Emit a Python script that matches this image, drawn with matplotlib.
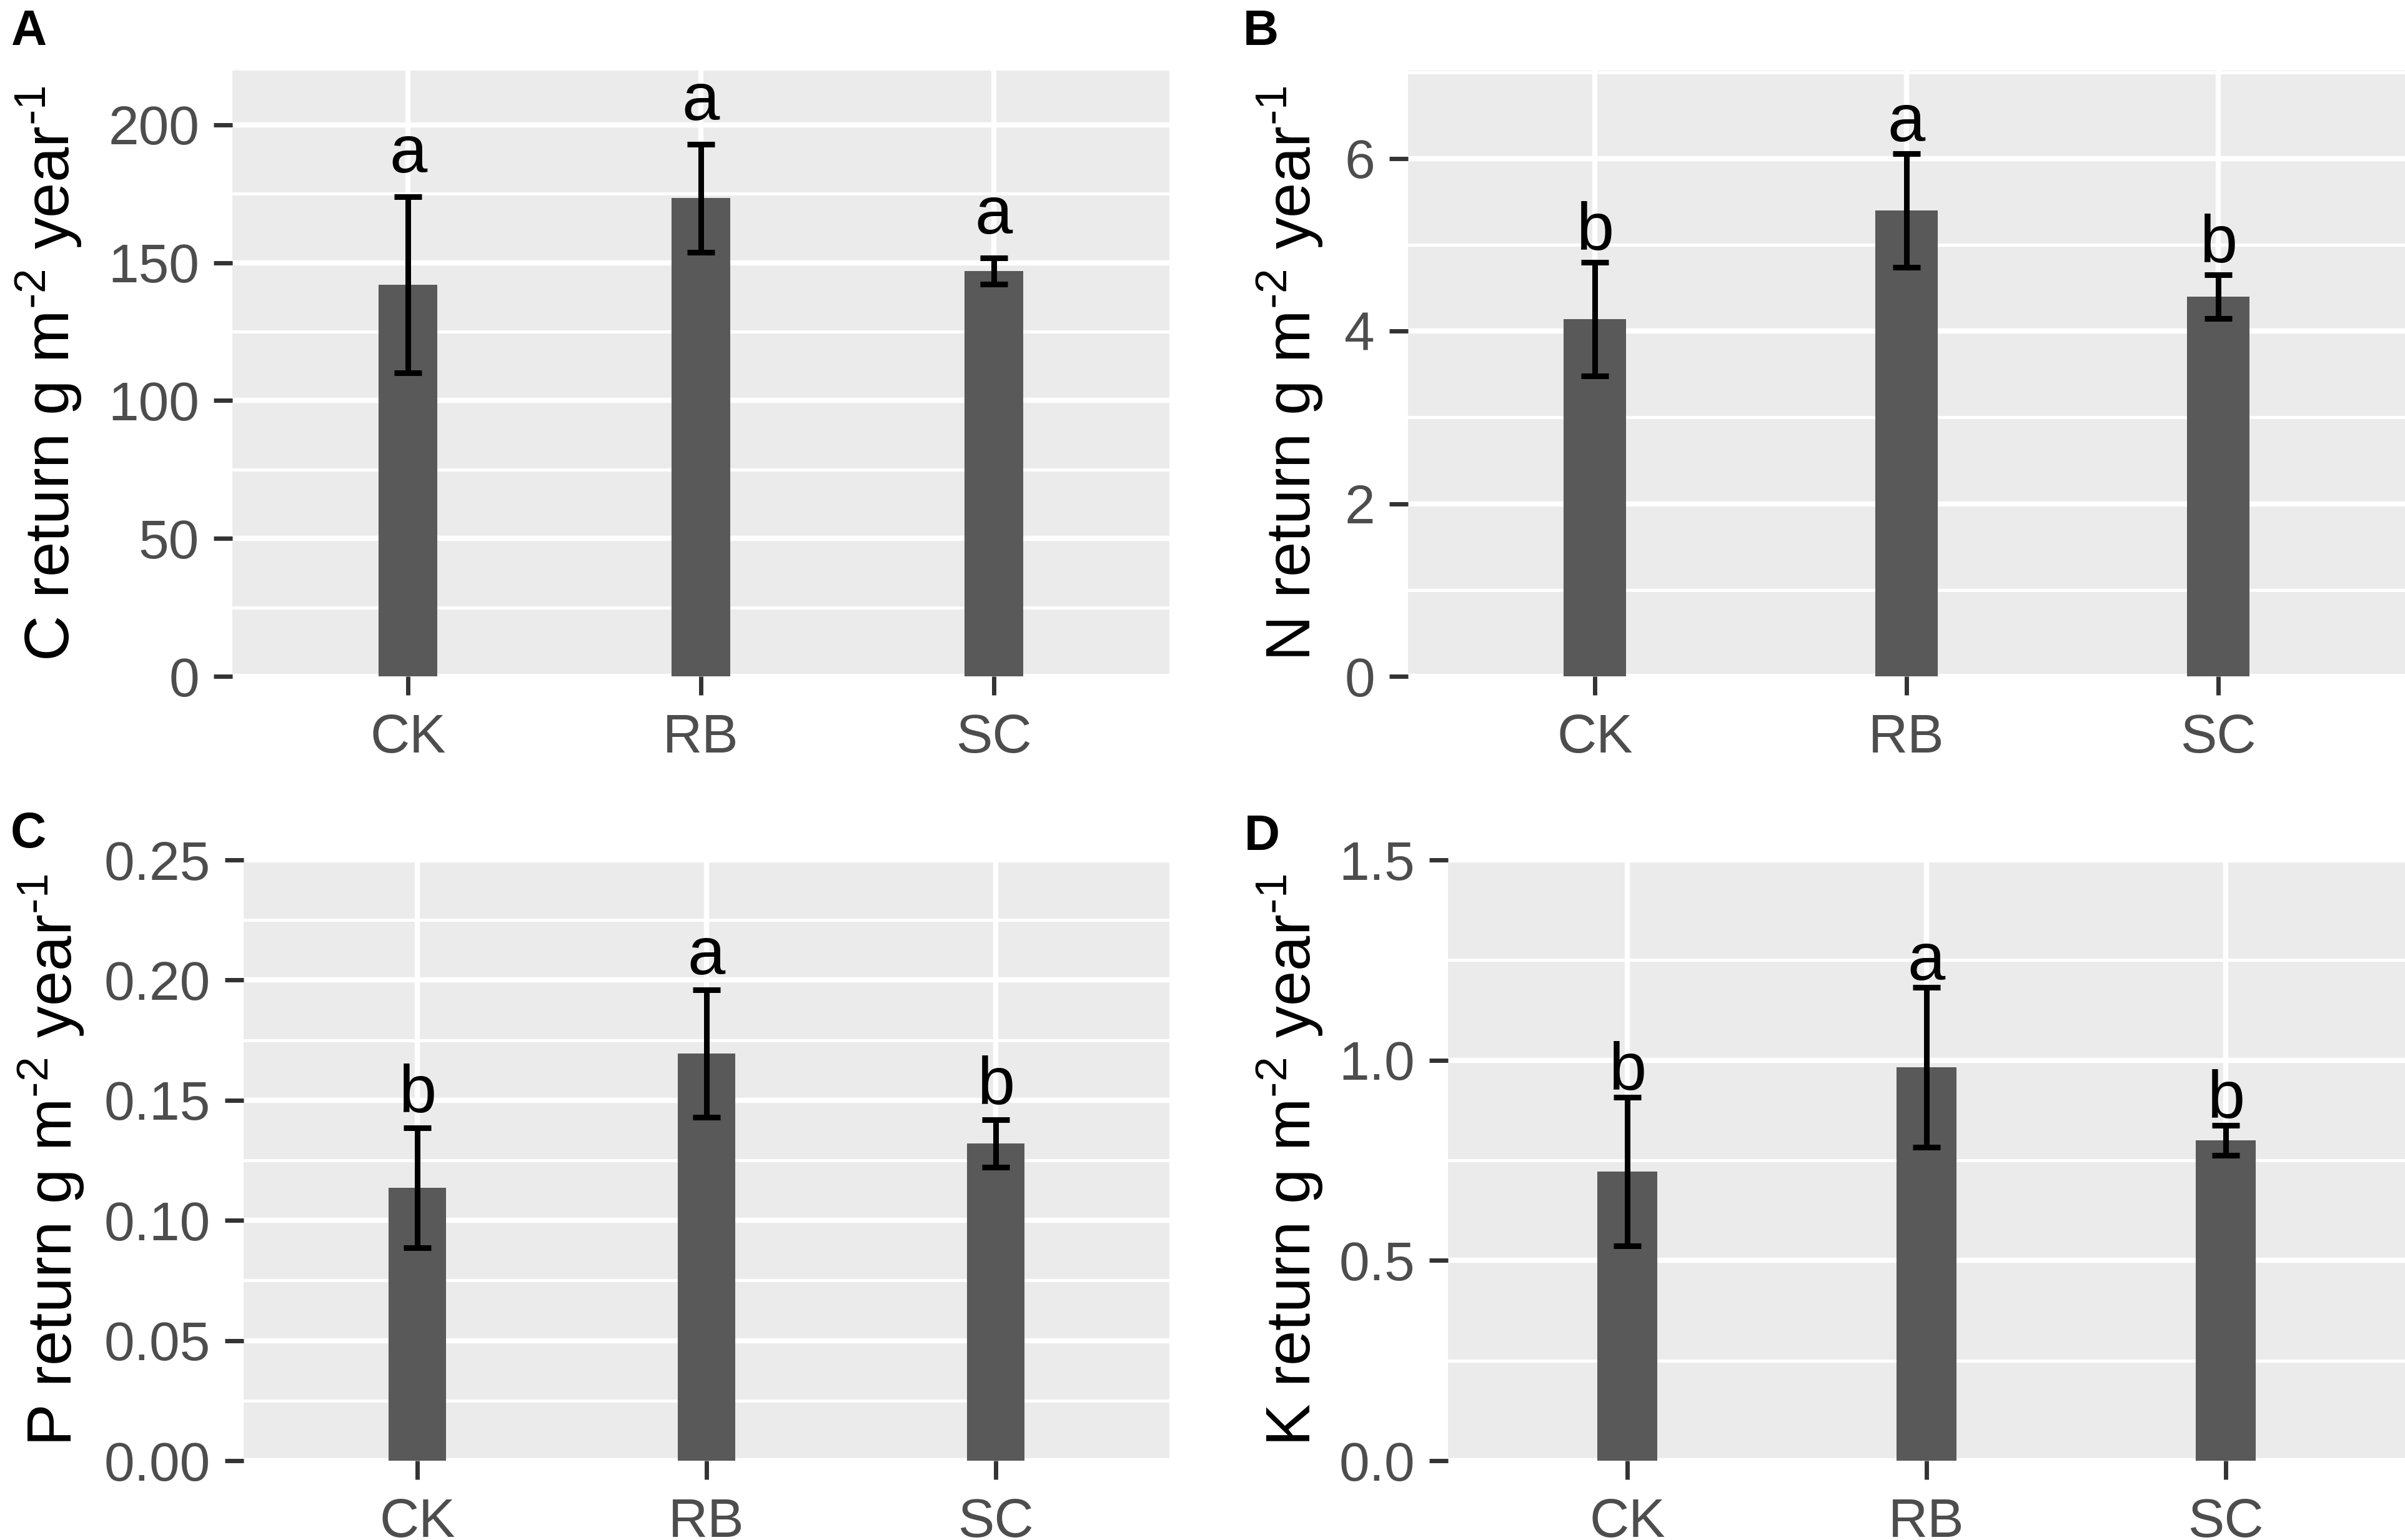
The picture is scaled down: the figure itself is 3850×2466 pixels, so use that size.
import matplotlib
matplotlib.use('Agg')
import matplotlib.pyplot as plt
import matplotlib.transforms as mtransforms

plt.rcParams['font.family'] = ['Liberation Sans', 'DejaVu Sans']
plt.rcParams['mathtext.default'] = 'regular'

# data
groups = ['CK', 'RB', 'SC']

c_mean = [142.0, 173.4, 147.0]
c_se = [32.0, 19.5, 4.8]
c_letters = ['a', 'a', 'a']

n_mean = [4.14, 5.40, 4.40]
n_se = [0.66, 0.66, 0.25]
n_letters = ['b', 'a', 'b']

p_mean = [0.1135, 0.1695, 0.1320]
p_se = [0.0250, 0.0265, 0.0098]
p_letters = ['b', 'a', 'b']

k_mean = [0.722, 0.982, 0.800]
k_se = [0.185, 0.200, 0.037]
k_letters = ['b', 'a', 'b']

c_ticks = [0, 50, 100, 150, 200]
c_ticklabels = ['0', '50', '100', '150', '200']
n_ticks = [0, 2, 4, 6]
n_ticklabels = ['0', '2', '4', '6']
p_ticks = [0, 0.05, 0.10, 0.15, 0.20, 0.25]
p_ticklabels = ['0.00', '0.05', '0.10', '0.15', '0.20', '0.25']
k_ticks = [0, 0.5, 1.0, 1.5]
k_ticklabels = ['0.0', '0.5', '1.0', '1.5']

W, H = 3850, 2466
fig = plt.figure(figsize=(W / 100, H / 100), dpi=100)


def px_box(left, top, right, bottom):
    return [left / W, 1 - bottom / H, (right - left) / W, (bottom - top) / H]


panels = [
    # label, box, mean, se, letters, ticks, ticklabels, ymax, element, letter gap (px), label pos, title x (px)
    ('A', px_box(372, 113, 1872, 1083), c_mean, c_se, c_letters, c_ticks, c_ticklabels, 219.7, 'C', 39, (17, 72), 135),
    ('B', px_box(2254, 113, 3850, 1083), n_mean, n_se, n_letters, n_ticks, n_ticklabels, 7.02, 'N', 20, (1990, 72), 2122),
    ('C', px_box(390, 1377, 1872, 2339), p_mean, p_se, p_letters, p_ticks, p_ticklabels, 0.25, 'P', 25, (17, 1357), 139),
    ('D', px_box(2318, 1377, 3850, 2339), k_mean, k_se, k_letters, k_ticks, k_ticklabels, 1.5, 'K', 12, (1992, 1361), 2122),
]

x = list(range(1, len(groups) + 1))

for lab, box, mean, se, letters, ticks, ticklabels, ymax, elem, gap, lpos, tx in panels:
    ax = fig.add_axes(box)
    ax.set_facecolor('#EBEBEB')
    for s in ax.spines.values():
        s.set_visible(False)
    ax.set_axisbelow(True)

    ax.bar(x, mean, width=0.2, color='#595959', zorder=2)
    ax.errorbar(x, mean, yerr=se, fmt='none', ecolor='black',
                elinewidth=6.5, capsize=15.5, capthick=6.5, zorder=3)
    for xi, m, e, t in zip(x, mean, se, letters):
        ax.annotate(t, (xi, m + e), xytext=(0, gap * 0.72), textcoords='offset points',
                    ha='center', va='baseline', fontsize=78, color='black', zorder=4)

    ax.set_xlim(0.4, 3.6)
    ax.set_ylim(0, ymax)
    ax.set_xticks(x, groups)
    ax.set_yticks(ticks, ticklabels)
    minor = [(a + b) / 2 for a, b in zip(ticks[:-1], ticks[1:])]
    if ticks[-1] + (ticks[1] - ticks[0]) / 2 <= ymax * 1.001:
        minor.append(ticks[-1] + (ticks[1] - ticks[0]) / 2)
    ax.set_yticks(minor, minor=True)

    ax.grid(which='major', axis='both', color='white', linewidth=6)
    ax.grid(which='minor', axis='y', color='white', linewidth=3.6)
    ax.tick_params(which='major', length=21.6, width=5, color='#333333',
                   labelsize=63, labelcolor='#4D4D4D')
    ax.tick_params(axis='y', which='major', pad=16.5)
    ax.tick_params(axis='x', which='major', pad=21)
    ax.tick_params(which='minor', length=0)

    ax.set_ylabel(elem + r' return g m$^{\text{-}2}$ year$^{\text{-}1}$', fontsize=73, color='black')
    trans = mtransforms.blended_transform_factory(fig.transFigure, ax.transAxes)
    ax.yaxis.set_label_coords(tx / W, 0.5, transform=trans)

    fig.text(lpos[0] / W, 1 - lpos[1] / H, lab, fontsize=57, fontweight='bold',
             ha='left', va='baseline')

fig.savefig('out.png', dpi=100, facecolor='white')
